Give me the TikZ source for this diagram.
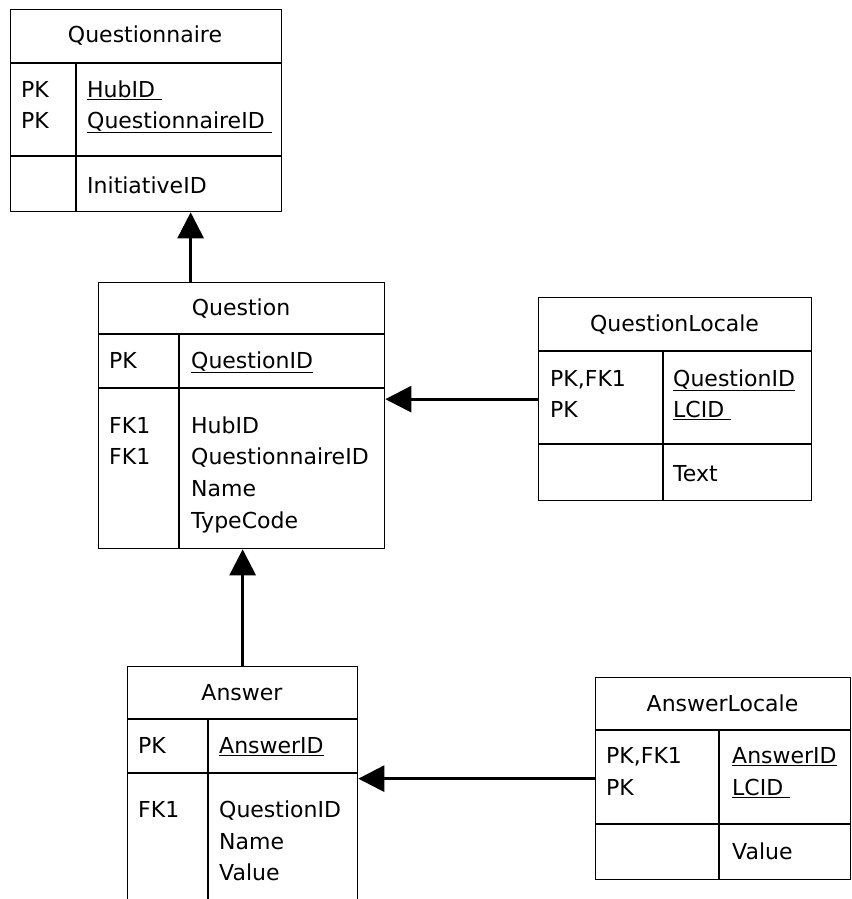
\documentclass[tikz,border=0pt]{standalone}
\usepackage{fontspec}
\setmainfont{DejaVu Sans}
\usetikzlibrary{arrows.meta}

\begin{document}
\begin{tikzpicture}[x=1pt, y=-1pt,
    font=\fontsize{22}{32}\selectfont,
    tbl/.style={draw, line width=1.3pt, anchor=north west, inner sep=0pt},
    sep/.style={line width=1.3pt},
    ttl/.style={anchor=base, inner sep=0pt},
    fld/.style={anchor=base west, inner sep=0pt},
    fk/.style={line width=2.8pt, -{Triangle[width=26pt,length=26pt]}}]

\useasboundingbox (0,0) rectangle (851,899);
\clip (0,0) rectangle (851,899);

% Questionnaire
\node[tbl, minimum width=271.5pt, minimum height=202pt] (qn) at (9.5,9) {};
\draw[sep] (9.5,63) -- (281,63) (9.5,156) -- (281,156) (76,63) -- (76,211);
\node[ttl] (qn-t) at (145,43) {Questionnaire};
\node[fld] (qn-k1) at (21,97) {PK};
\node[fld] (qn-k2) at (21,128) {PK};
\node[fld] (qn-f1) at (87,97) {\underline{HubID\ }};
\node[fld] (qn-f2) at (87,128) {\underline{QuestionnaireID\ }};
\node[fld] (qn-f3) at (87,193) {InitiativeID};

% Question
\node[tbl, minimum width=286pt, minimum height=266pt] (qs) at (98,282) {};
\draw[sep] (98,334) -- (384,334) (98,388) -- (384,388) (179,334) -- (179,548);
\node[ttl] (qs-t) at (241,315) {Question};
\node[fld] (qs-k1) at (109,368) {PK};
\node[fld] (qs-k2) at (109,433) {FK1};
\node[fld] (qs-k3) at (109,464) {FK1};
\node[fld] (qs-f1) at (191,368) {\underline{QuestionID}};
\node[fld] (qs-f2) at (191,433) {HubID};
\node[fld] (qs-f3) at (191,464) {QuestionnaireID};
\node[fld] (qs-f4) at (191,496) {Name};
\node[fld] (qs-f5) at (191,528) {TypeCode};

% QuestionLocale
\node[tbl, minimum width=273pt, minimum height=203pt] (ql) at (538,297) {};
\draw[sep] (538,351) -- (811,351) (538,444) -- (811,444) (663,351) -- (663,500);
\node[ttl] (ql-t) at (674.5,331) {QuestionLocale};
\node[fld] (ql-k1) at (550,386) {PK,FK1};
\node[fld] (ql-k2) at (550,417) {PK};
\node[fld] (ql-f1) at (673,386) {\underline{QuestionID}};
\node[fld] (ql-f2) at (673,417) {\underline{LCID\ }};
\node[fld] (ql-f3) at (673,481) {Text};

% Answer
\node[tbl, minimum width=230pt, minimum height=270pt] (an) at (127,666) {};
\draw[sep] (127,719) -- (357,719) (127,773) -- (357,773) (208,719) -- (208,936);
\node[ttl] (an-t) at (242,700) {Answer};
\node[fld] (an-k1) at (138,753) {PK};
\node[fld] (an-k2) at (138,817) {FK1};
\node[fld] (an-f1) at (219,753) {\underline{AnswerID}};
\node[fld] (an-f2) at (219,817) {QuestionID};
\node[fld] (an-f3) at (219,849) {Name};
\node[fld] (an-f4) at (219,880) {Value};

% AnswerLocale
\node[tbl, minimum width=255pt, minimum height=202pt] (al) at (595,677) {};
\draw[sep] (595,730) -- (850,730) (595,824) -- (850,824) (719,730) -- (719,879);
\node[ttl] (al-t) at (722.5,711) {AnswerLocale};
\node[fld] (al-k1) at (606,763) {PK,FK1};
\node[fld] (al-k2) at (606,795) {PK};
\node[fld] (al-f1) at (732,763) {\underline{AnswerID}};
\node[fld] (al-f2) at (732,795) {\underline{LCID\ }};
\node[fld] (al-f3) at (732,859) {Value};

% relations
\draw[fk] ([xshift=-51pt]qs.north) -- ([xshift=-51pt]qs.north |- qn.south);
\draw[fk] (ql.west) -- (ql.west -| qs.east);
\draw[fk] (an.north) -- (an.north |- qs.south);
\draw[fk] (al.west) -- (al.west -| an.east);
\end{tikzpicture}
\end{document}
